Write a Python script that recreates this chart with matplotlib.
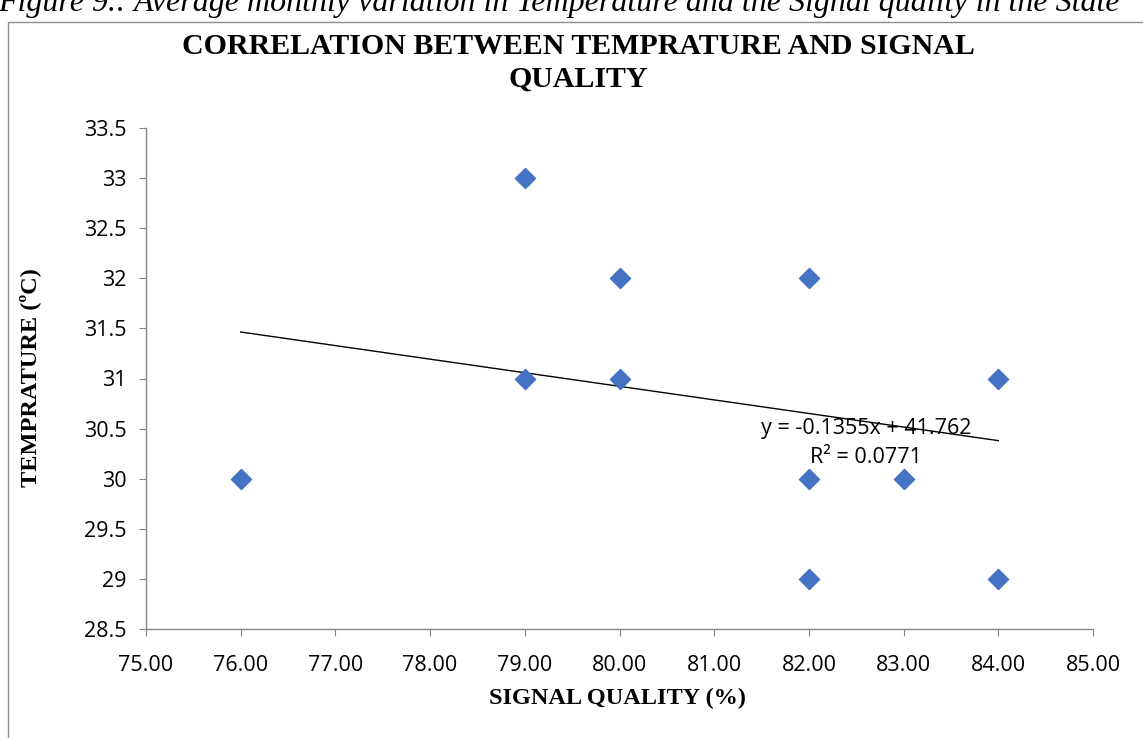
import matplotlib
matplotlib.use("Agg")
import matplotlib.pyplot as plt
from matplotlib.patches import Rectangle
import numpy as np

signal_quality = [76, 79, 79, 80, 80, 82, 82, 82, 83, 84, 84]
temperature = [30, 33, 31, 32, 31, 32, 30, 29, 30, 31, 29]
trend_slope = -0.1355
trend_intercept = 41.762
r_squared = 0.0771
trend_x = [76, 84]

x_ticks = [75, 76, 77, 78, 79, 80, 81, 82, 83, 84, 85]
y_ticks = [28.5, 29, 29.5, 30, 30.5, 31, 31.5, 32, 32.5, 33, 33.5]

W, H = 1143, 738
fig = plt.figure(figsize=(W / 100, H / 100), dpi=100)

# outer chart frame
fig.patches.append(Rectangle((8 / W, -0.05), 1.2, 1 - 22 / H + 0.05,
                             transform=fig.transFigure, fill=False,
                             edgecolor="#8c8c8c", linewidth=1.0))

# caption at the top (partly cut off in the reference)
fig.text(-2 / W, 1 - 11 / H, "Figure 9.: Average monthly variation in Temperature and the Signal quality in the State",
         family="Liberation Serif", style="italic", fontsize=23, va="baseline", ha="left")

ax = fig.add_axes([146 / W, 1 - 629 / H, (1093 - 146) / W, (629 - 128) / H])

ax.scatter(signal_quality, temperature, marker="D", s=105, color="#4472C4",
           edgecolors="#4472C4", zorder=3)

tx = np.array(trend_x, dtype=float)
ax.plot(tx, trend_slope * tx + trend_intercept, color="black", linewidth=1.0, zorder=2)

ax.set_xlim(75, 85)
ax.set_ylim(28.5, 33.5)
ax.set_xticks(x_ticks)
ax.set_xticklabels([f"{v:.2f}" for v in x_ticks])
ax.set_yticks(y_ticks)
ax.set_yticklabels([f"{v:g}" for v in y_ticks])

for s in ["top", "right"]:
    ax.spines[s].set_visible(False)
for s in ["left", "bottom"]:
    ax.spines[s].set_color("#868686")
    ax.spines[s].set_linewidth(1.0)

ax.tick_params(axis="both", colors="#868686", labelcolor="black", length=5,
               direction="out", labelsize=15.5)
ax.tick_params(axis="x", pad=14)
ax.tick_params(axis="y", pad=9)
for lbl in ax.get_xticklabels() + ax.get_yticklabels():
    lbl.set_family("Open Sans")

# trendline equation text
ax.text(82.6, 30.5, f"y = {trend_slope}x + {trend_intercept}", family="Open Sans",
        fontsize=15.5, ha="center", va="center", zorder=4)
ax.text(82.6, 30.21, f"R² = {r_squared}", family="Open Sans",
        fontsize=15.5, ha="center", va="center", zorder=4)

fig.text(578 / W, 1 - 47 / H, "CORRELATION BETWEEN TEMPRATURE AND SIGNAL",
         family="Liberation Serif", weight="bold", fontsize=21.5, ha="center", va="center")
fig.text(578 / W, 1 - 79 / H, "QUALITY",
         family="Liberation Serif", weight="bold", fontsize=21.5, ha="center", va="center")

fig.text(617 / W, 1 - 698 / H, "SIGNAL QUALITY (%)", family="Liberation Serif",
         weight="bold", fontsize=17.5, ha="center", va="center")
fig.text(30 / W, 1 - 378 / H, "TEMPRATURE (ºC)", family="Liberation Serif",
         weight="bold", fontsize=17.5, ha="center", va="center", rotation=90)

fig.savefig("out.png", dpi=100)
